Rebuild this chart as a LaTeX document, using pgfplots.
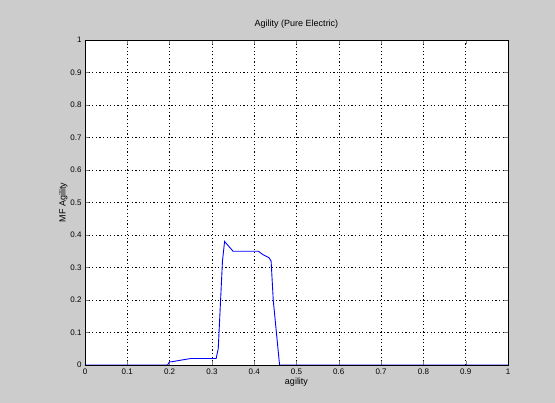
\documentclass[border=0pt]{standalone}
\usepackage{pgfplots}
\pgfplotsset{compat=1.18}
\usepackage{fontspec}
\setmainfont{Liberation Sans}
\definecolor{figbg}{RGB}{204,204,204}

\begin{document}
\begin{tikzpicture}[x=1pt,y=1pt]
% figure background (MATLAB grey)
\fill[figbg] (-85,-38) rectangle (470,365);
\begin{axis}[
  at={(0,0)}, anchor=south west,
  scale only axis,
  width=423pt, height=325pt,
  xmin=0, xmax=1, ymin=0, ymax=1,
  xtick={0,0.1,...,1}, ytick={0,0.1,...,1},
  xticklabels={0,0.1,0.2,0.3,0.4,0.5,0.6,0.7,0.8,0.9,1},
  yticklabels={0,0.1,0.2,0.3,0.4,0.5,0.6,0.7,0.8,0.9,1},
  tick align=inside,
  major tick length=4pt,
  ticklabel style={font=\footnotesize},
  /pgf/number format/assume math mode=true,
  grid=major,
  grid style={black, dash pattern=on 1.2pt off 2.4pt, line width=0.5pt},
  axis background/.style={fill=white},
  axis line style={black, line width=0.6pt},
  title={Agility (Pure Electric)},
  title style={font=\small, yshift=2pt},
  xlabel={agility},
  ylabel={MF Agility},
  label style={font=\small},
  xlabel style={yshift=3pt},
  ylabel style={yshift=-4pt},
]
\addplot[blue, line width=0.9pt] coordinates {
  (0,0) (0.195,0) (0.2,0.01) (0.205,0.01)
  (0.25,0.02) (0.31,0.02) (0.315,0.05)
  (0.325,0.32) (0.33,0.38) (0.35,0.35) (0.41,0.35)
  (0.42,0.34) (0.435,0.33) (0.44,0.32) (0.445,0.2)
  (0.46,0) (1,0)
};
\end{axis}
\end{tikzpicture}
\end{document}
